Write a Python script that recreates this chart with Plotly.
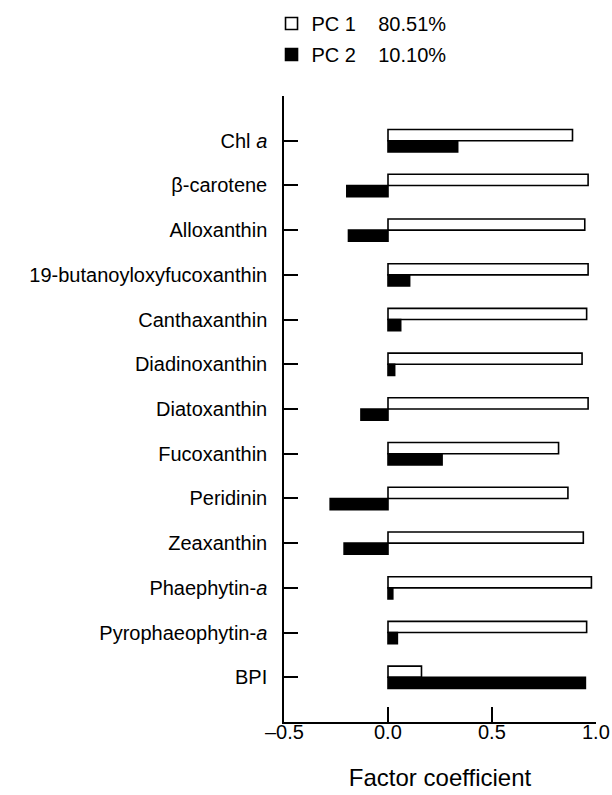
import plotly.graph_objects as go

categories = ["Chl <i>a</i>", "β-carotene", "Alloxanthin", "19-butanoyloxyfucoxanthin",
              "Canthaxanthin", "Diadinoxanthin", "Diatoxanthin", "Fucoxanthin",
              "Peridinin", "Zeaxanthin", "Phaephytin-<i>a</i>", "Pyrophaeophytin-<i>a</i>", "BPI"]
pc1 = [0.887, 0.962, 0.946, 0.962, 0.955, 0.933, 0.962, 0.820, 0.865, 0.939, 0.978, 0.955, 0.161]
pc2 = [0.335, -0.198, -0.190, 0.104, 0.061, 0.032, -0.130, 0.260, -0.278, -0.211, 0.023, 0.045, 0.949]
series_names = ["PC 1&nbsp;&nbsp;&nbsp;&nbsp;80.51%", "PC 2&nbsp;&nbsp;&nbsp;&nbsp;10.10%"]
x_ticks = [-0.5, 0.0, 0.5, 1.0]
x_ticklabels = ["\u20130.5", "0.0", "0.5", "1.0"]

FONT = "Liberation Sans, Arial, Helvetica, sans-serif"

fig = go.Figure()
fig.add_trace(go.Bar(
    y=categories, x=pc1, orientation="h", name=series_names[0], legendgroup="a",
    marker=dict(color="white", line=dict(color="black", width=1.6)),
))
fig.add_trace(go.Bar(
    y=categories, x=pc2, orientation="h", name=series_names[1], legendgroup="b",
    marker=dict(color="black", line=dict(color="black", width=1.6)),
))

# x tick labels placed through the x axis scale
for v, t in zip(x_ticks, x_ticklabels):
    fig.add_annotation(x=v, xref="x", y=0, yref="paper", text=t, showarrow=False,
                       xanchor="center", yanchor="top", yshift=3,
                       font=dict(size=20))

fig.update_layout(
    width=612, height=795,
    margin=dict(l=284, r=16, t=96, b=73, autoexpand=False),
    paper_bgcolor="white", plot_bgcolor="white",
    barmode="group", bargap=0.5, bargroupgap=0,
    font=dict(family=FONT, size=20, color="black"),
    showlegend=True,
    legend=dict(x=-0.04, y=1.147, xanchor="left", yanchor="top",
                font=dict(size=20), bgcolor="rgba(0,0,0,0)",
                itemwidth=30, tracegroupgap=2, traceorder="grouped"),
)
fig.update_xaxes(
    range=[-0.5, 1.0], tickvals=x_ticks, showticklabels=False,
    showline=True, linecolor="black", linewidth=1.5,
    ticks="inside", ticklen=15, tickwidth=1.5, tickcolor="black",
    showgrid=False, zeroline=False,
    title=dict(text="Factor coefficient", font=dict(size=24), standoff=46),
)
fig.update_yaxes(
    type="category", categoryorder="array", categoryarray=categories,
    range=[13, -1], autorange=False,
    showline=True, linecolor="black", linewidth=1.5,
    ticks="inside", ticklen=14, tickwidth=1.5, tickcolor="black",
    showgrid=False, zeroline=False,
    tickfont=dict(size=20), ticklabelstandoff=11,
)

fig.write_html("out.html")
